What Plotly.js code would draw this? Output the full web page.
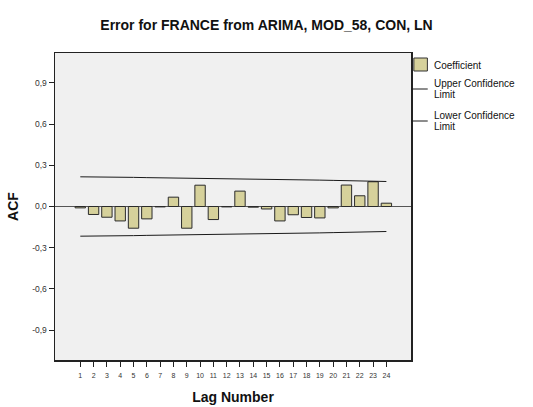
<!DOCTYPE html>
<html>
<head>
<meta charset="utf-8">
<script src="https://cdn.plot.ly/plotly-3.0.1.min.js"></script>
<style>
html,body{margin:0;padding:0;background:#fff;}
#chart{width:533px;height:407px;}
</style>
</head>
<body>
<div id="chart"></div>
<script>
const lags = [1,2,3,4,5,6,7,8,9,10,11,12,13,14,15,16,17,18,19,20,21,22,23,24];
const coefficient = [-0.010,-0.058,-0.078,-0.105,-0.158,-0.090,-0.003,0.068,-0.158,0.155,-0.095,-0.003,0.112,-0.005,-0.018,-0.105,-0.060,-0.080,-0.083,-0.010,0.156,0.078,0.180,0.024];
const upperLimit = [0.216,0.216,0.215,0.214,0.212,0.210,0.209,0.208,0.206,0.204,0.203,0.202,0.200,0.199,0.197,0.196,0.195,0.193,0.192,0.190,0.188,0.186,0.184,0.182];
const lowerLimit = [-0.216,-0.216,-0.215,-0.214,-0.212,-0.210,-0.209,-0.208,-0.206,-0.204,-0.203,-0.202,-0.200,-0.199,-0.197,-0.196,-0.195,-0.193,-0.192,-0.190,-0.188,-0.186,-0.184,-0.182];
const yTickVals = [0.9,0.6,0.3,0.0,-0.3,-0.6,-0.9];
const yTickText = ['0,9','0,6','0,3','0,0','-0,3','-0,6','-0,9'];
const legendLines = [['Coefficient'],['Upper Confidence','Limit'],['Lower Confidence','Limit']];

const barColor = '#d6d19b';
const lineColor = '#1a1a1a';

const traces = [
  {type:'bar', x:lags, y:coefficient, width:0.78, marker:{color:barColor, line:{color:'#2b2b2b', width:1}}, showlegend:false, hoverinfo:'skip'},
  {type:'scatter', mode:'lines', x:lags, y:upperLimit, line:{color:lineColor, width:1}, showlegend:false, hoverinfo:'skip'},
  {type:'scatter', mode:'lines', x:lags, y:lowerLimit, line:{color:lineColor, width:1}, showlegend:false, hoverinfo:'skip'}
];

const font = 'Liberation Sans, Arial, sans-serif';
const plotTop = 53, plotBottom = 360, plotH = plotBottom - plotTop;
const py = y => (plotBottom - y) / plotH;
const legendAnn = [
  {t:legendLines[0][0], y:65},
  {t:legendLines[1][0], y:83.5}, {t:legendLines[1][1], y:94.5},
  {t:legendLines[2][0], y:115}, {t:legendLines[2][1], y:126}
].map(o => ({xref:'paper', yref:'paper', x:1.063, y:py(o.y), xanchor:'left', yanchor:'middle', text:o.t, showarrow:false, align:'left', borderpad:0, font:{size:10, color:'#111'}}));

const layout = {
  width:533, height:407,
  margin:{l:55, r:122, t:plotTop, b:407-plotBottom},
  paper_bgcolor:'#ffffff', plot_bgcolor:'#f0f0f0',
  font:{family:font, color:'#111'},
  title:{text:'<b>Error for FRANCE from ARIMA, MOD_58, CON, LN</b>', x:0.5, xref:'container', xanchor:'center', y:0.95, yref:'container', font:{size:14, family:font, color:'#111'}},
  showlegend:false,
  bargap:0,
  xaxis:{range:[-0.9,25.85], tickvals:lags, ticktext:lags.map(String), ticks:'outside', ticklen:5, tickwidth:1, tickcolor:'#222',
         ticklabelstandoff:3,
         tickfont:{size:7, color:'#333'}, showgrid:false, zeroline:false, showline:true, linecolor:'#222', linewidth:1.5, mirror:true,
         title:{text:'<b>Lag Number</b>', font:{size:14, color:'#111'}, standoff:14}},
  yaxis:{range:[-1.117,1.117], tickvals:yTickVals, ticktext:yTickText, ticks:'outside', ticklen:5, tickwidth:1, tickcolor:'#222',
         tickfont:{size:8.5, color:'#333'}, showgrid:false, zeroline:true, zerolinecolor:'#555', zerolinewidth:1,
         showline:true, linecolor:'#222', linewidth:1.5, mirror:true,
         title:{text:'<b>ACF</b>', font:{size:14, color:'#111'}, standoff:10}},
  shapes:[
    {type:'rect', xref:'paper', yref:'paper', x0:1.008, x1:1.046, y0:py(58), y1:py(71), fillcolor:barColor, line:{color:'#333', width:1}},
    {type:'line', xref:'paper', yref:'paper', x0:1.0, x1:1.047, y0:py(89), y1:py(89), line:{color:lineColor, width:1}},
    {type:'line', xref:'paper', yref:'paper', x0:1.0, x1:1.047, y0:py(121), y1:py(121), line:{color:lineColor, width:1}}
  ],
  annotations:legendAnn
};
Plotly.newPlot('chart', traces, layout, {staticPlot:true, displayModeBar:false});
</script>
</body>
</html>
